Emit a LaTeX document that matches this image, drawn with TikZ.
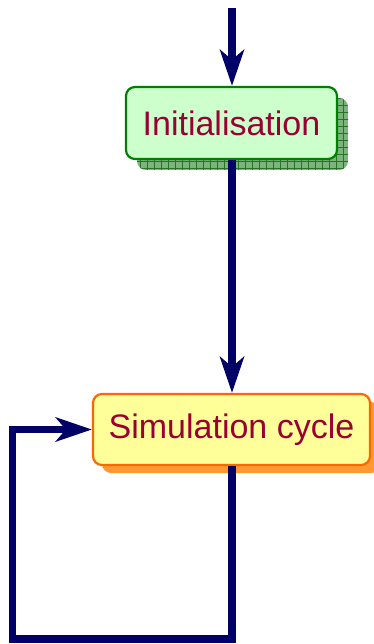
\documentclass[tikz,border=0pt]{standalone}
\usepackage{fontspec}
\setmainfont{Liberation Sans}
\usetikzlibrary{arrows.meta,backgrounds}
\definecolor{arrowblue}{RGB}{0,0,102}
\definecolor{initfill}{RGB}{204,255,204}
\definecolor{initdraw}{RGB}{0,128,0}
\definecolor{initshadow}{RGB}{125,180,125}
\definecolor{initgrid}{RGB}{40,115,40}
\definecolor{simfill}{RGB}{255,255,153}
\definecolor{simdraw}{RGB}{255,102,0}
\definecolor{simshadow}{RGB}{255,153,51}
\definecolor{txt}{RGB}{153,0,51}
\tikzset{
  flowbox/.style={rectangle, rounded corners=9pt, line width=2.2pt, inner sep=0pt,
    font=\fontsize{34}{40}\selectfont, text=txt},
  conn/.style={draw=arrowblue, line width=7.5pt, line join=miter,
    -{Stealth[length=36pt,width=24pt,inset=10pt]}}
}
\begin{document}
\begin{tikzpicture}[x=1pt,y=-1pt]
\useasboundingbox (0,0) rectangle (373,644);
\node[flowbox, draw=initdraw, fill=initfill, minimum width=211pt, minimum height=72pt] (init) at (231.5,123) {Initialisation};
\node[flowbox, draw=simdraw, fill=simfill, minimum width=277pt, minimum height=71pt] (sim) at (231.5,429.5) {Simulation cycle};
\begin{scope}[on background layer]
  \begin{scope}
    \clip[rounded corners=9pt] (137,98) rectangle (348,170);
    \fill[initshadow] (137,98) rectangle (348,170);
    \draw[initgrid, line width=0.5pt, step=7pt] (130,90) grid (355,175);
  \end{scope}
  \fill[simshadow, rounded corners=9pt] (102,402) rectangle (380,473);
\end{scope}
\coordinate (start) at (232,8);
\coordinate (c1) at (232,639);
\coordinate (c2) at (12.5,639);
\coordinate (c3) at (12.5,429.5);
\draw[conn] (start) -- (start |- init.north);
\draw[conn] (init.south -| start) -- (sim.north -| start);
\draw[conn] (sim.south -| start) -- (c1) -- (c2) -- (c3) -- (sim.west);
\end{tikzpicture}
\end{document}
